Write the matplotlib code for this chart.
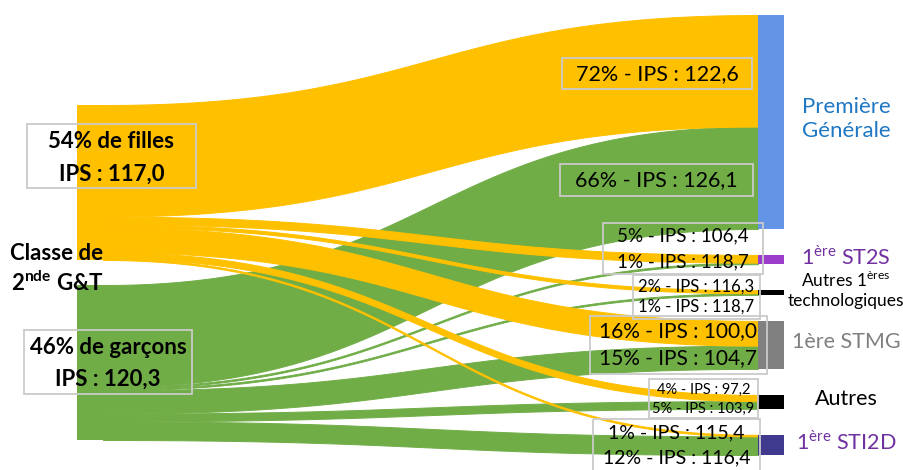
import numpy as np
import matplotlib.pyplot as plt
from matplotlib.patches import Rectangle

plt.rcParams['font.family'] = ['Lato', 'DejaVu Sans']
plt.rcParams['mathtext.fontset'] = 'custom'
plt.rcParams['mathtext.rm'] = 'Lato'
plt.rcParams['mathtext.bf'] = 'Lato:bold'

# --- data ---
group_share = [54, 46]
group_name = ['filles', 'garçons']
group_ips = ['117,0', '120,3']

targets = ['PG', 'ST2S', 'AT', 'STMG', 'AUT', 'STI2D']
girls_pct = [72, 5, 2, 16, 4, 1]
boys_pct = [66, 1, 1, 15, 5, 12]
girls_ips = ['122,6', '106,4', '116,3', '100,0', '97,2', '115,4']
boys_ips = ['126,1', '118,7', '118,7', '104,7', '103,9', '116,4']

target_labels = ['Première\nGénérale', '1$^{\\mathrm{ère}}$ ST2S',
                 'Autres 1$^{\\mathrm{ères}}$\ntechnologiques', '1ère STMG',
                 'Autres', '1$^{\\mathrm{ère}}$ STI2D']
target_label_colors = ['#1F78C4', '#7030A0', '#000000', '#808080', '#000000', '#7030A0']
target_label_sizes = [16, 15.5, 12.5, 15.5, 15.5, 15.5]
node_colors = ['#6394E6', '#9B3CCB', '#000000', '#808080', '#000000', '#3F3A8E']

YELLOW = '#FFC000'
GREEN = '#70AD47'
BOX_EDGE = '#CACACA'

# --- layout (pixels) ---
W, H = 904, 470
SCALE = 1.55          # px per percent
SRC_X0, SRC_X1 = 77, 103
TGT_X0, TGT_X1 = 758, 784
SRC_TOP, SRC_GAP = 105, 25
TGT_TOP, TGT_GAP = 15, 26

fig = plt.figure(figsize=(W / 100, H / 100), dpi=100)
ax = fig.add_axes([0, 0, 1, 1])
ax.set_xlim(0, W)
ax.set_ylim(H, 0)
ax.axis('off')

flows = [girls_pct, boys_pct]
src_colors = [YELLOW, GREEN]

# source node positions
src_top = []
y = SRC_TOP
for f in flows:
    src_top.append(y)
    y += sum(f) * SCALE + SRC_GAP

# target node positions
tgt_tot = [g + b for g, b in zip(girls_pct, boys_pct)]
tgt_top = []
y = TGT_TOP
for t in tgt_tot:
    tgt_top.append(y)
    y += t * SCALE + TGT_GAP


def link(y0a, y0b, y1a, y1b, color):
    t = np.linspace(0, 1, 200)
    dx = TGT_X0 - SRC_X1
    cx0, cx1 = SRC_X1 + 0.5 * dx, TGT_X0 - 0.5 * dx
    xs = ((1 - t) ** 3 * SRC_X1 + 3 * (1 - t) ** 2 * t * cx0
          + 3 * (1 - t) * t ** 2 * cx1 + t ** 3 * TGT_X0)
    s = 3 * t ** 2 - 2 * t ** 3
    top = y0a + (y1a - y0a) * s
    bot = y0b + (y1b - y0b) * s
    ax.fill_between(xs, top, bot, color=color, ec=color, lw=0.7, zorder=2)


# links: boys first, girls on top
for gi in [1, 0]:
    sy = src_top[gi]
    for ti, v in enumerate(flows[gi]):
        ty = tgt_top[ti] + (girls_pct[ti] * SCALE if gi == 1 else 0)
        h = v * SCALE
        link(sy, sy + h, ty, ty + h, src_colors[gi])
        sy += h

# source nodes
for gi, f in enumerate(flows):
    ax.add_patch(Rectangle((SRC_X0, src_top[gi]), SRC_X1 - SRC_X0 + 1,
                           sum(f) * SCALE, color=src_colors[gi], lw=0, zorder=3))

# target nodes + labels
for ti, t in enumerate(tgt_tot):
    ax.add_patch(Rectangle((TGT_X0, tgt_top[ti]), TGT_X1 - TGT_X0, t * SCALE,
                           color=node_colors[ti], lw=0, zorder=3))
    yc = tgt_top[ti] + t * SCALE / 2 - 3
    ax.text(846, yc, target_labels[ti], ha='center', va='center',
            color=target_label_colors[ti], fontsize=target_label_sizes[ti],
            linespacing=1.2, zorder=5)

# flow label boxes: (x0, y0, x1, y1, line ys, fontsize)
flow_boxes = [
    (562, 58, 752, 89, [74], 15.5),
    (560, 164, 753, 196, [180], 15.5),
    (603, 223, 763, 274, [236, 262], 13.5),
    (633, 275, 760, 319, [287, 307], 12),
    (590, 316, 767, 374, [331, 358], 15),
    (649, 379, 758, 418, [390, 409], 10.5),
    (593, 419, 760, 476, [433, 458], 14),
]


def box(x0, y0, x1, y1):
    ax.add_patch(Rectangle((x0, y0), x1 - x0, y1 - y0, fill=False,
                           ec=BOX_EDGE, lw=1.3, zorder=4))


for ti in range(len(targets)):
    texts = [f'{girls_pct[ti]}% - IPS : {girls_ips[ti]}',
             f'{boys_pct[ti]}% - IPS : {boys_ips[ti]}']
    if ti == 0:
        for k in range(2):
            x0, y0, x1, y1, ys, fs = flow_boxes[k]
            box(x0, y0, x1, y1)
            ax.text((x0 + x1) / 2, ys[0], texts[k], ha='center', va='center',
                    fontsize=fs, zorder=5)
    else:
        x0, y0, x1, y1, ys, fs = flow_boxes[ti + 1]
        box(x0, y0, x1, y1)
        for k in range(2):
            ax.text((x0 + x1) / 2, ys[k], texts[k], ha='center', va='center',
                    fontsize=fs, zorder=5)

# left labels
left_boxes = [(27, 124, 196, 188, [142, 174]), (24, 330, 192, 394, [348, 379])]
for gi in range(2):
    x0, y0, x1, y1, ys = left_boxes[gi]
    box(x0, y0, x1, y1)
    ax.text((x0 + x1) / 2, ys[0], f'{group_share[gi]}% de {group_name[gi]}',
            ha='center', va='center', fontsize=16, fontweight='bold', zorder=5)
    ax.text((x0 + x1) / 2, ys[1], f'IPS : {group_ips[gi]}',
            ha='center', va='center', fontsize=16, fontweight='bold', zorder=5)

ax.text(57, 253, 'Classe de', ha='center', va='center', fontsize=16,
        fontweight='bold', zorder=5)
ax.text(57, 283, '2$^{\\mathbf{nde}}$ G&T', ha='center', va='center', fontsize=16,
        fontweight='bold', zorder=5)

fig.savefig('out.png', dpi=100)
